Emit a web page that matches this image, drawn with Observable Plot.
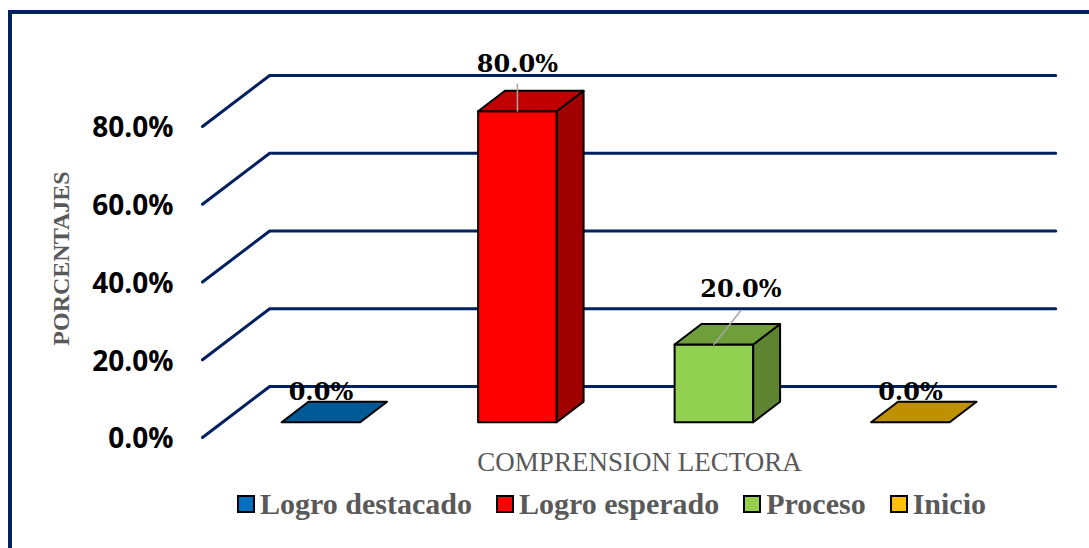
<!DOCTYPE html>
<html><head><meta charset="utf-8">
<script src="https://cdn.jsdelivr.net/npm/d3@7"></script>
<script src="https://cdn.jsdelivr.net/npm/@observablehq/plot@0.6"></script>
<style>
html,body{margin:0;padding:0;background:#fff;width:1089px;height:548px;overflow:hidden}
#frame{position:absolute;left:8px;top:10px;right:-10px;bottom:-10px;border:4px solid #002060;box-sizing:border-box}
#chart{position:absolute;left:0;top:0}
#chart svg{background:transparent;display:block}
#legend{position:absolute;left:237px;top:487px;display:flex;align-items:center;font:bold 30px "Liberation Serif",serif;color:#595959;white-space:nowrap;height:34px}
#legend .k{width:14px;height:14px;border:2px solid #000;margin-right:5px;display:inline-block}
#legend .i{display:flex;align-items:center;margin-right:24px}
</style></head><body>
<div id="frame"></div><div id="chart"></div><div id="legend"></div>
<script>
const categories = ["Logro destacado","Logro esperado","Proceso","Inicio"];
const values = [0,80,20,0];
const labels = ["0.0%","80.0%","20.0%","0.0%"];
const legendColors = ["#0070c0","#ff0000","#92d050","#ffc000"];
const topColors = ["#005a96","#c00000","#6f9f3a","#bf9000"];
const sideColors = ["#004f80","#a00000","#5e8432","#a67d00"];
const ticks = [0,20,40,60,80];
const xTitle = "COMPRENSION LECTORA";
const yTitle = "PORCENTAJES";

// oblique projection: depth runs 0..1 from the front of the floor to the back wall
const depthX = 0.342, depthY = 13.12;
const P = (c,v,d) => ({x:c+d*depthX, y:v+d*depthY});
const barL = 0.3, barR = 0.7, near = 0.3, far = 0.7; // in band/depth units

const grid = ticks.flatMap(t => [P(0,t,0),P(0,t,1),P(4,t,1)].map(p => ({...p,t})));

const faces = [];
values.forEach((v,i) => {
  const a=i+barL,b=i+barR;
  const add=(id,fill,pts)=>[...pts,pts[0]].forEach(p=>faces.push({...p,id:i+id,fill}));
  if (v>0) add("f",legendColors[i],[P(a,0,near),P(b,0,near),P(b,v,near),P(a,v,near)]);
  if (v>0) add("s",sideColors[i],[P(b,0,near),P(b,0,far),P(b,v,far),P(b,v,near)]);
  add("t",topColors[i],[P(a,v,near),P(b,v,near),P(b,v,far),P(a,v,far)]);
});

const mid=(barL+barR)/2;
const labelPts = values.map((v,i)=>({...P(i+mid,v,near),text:labels[i],v}));
const labelMarks = labelPts.map(d=>{
  const off = d.v===80?{dx:0,dy:-39}:d.v===20?{dx:27,dy:-47}:{dx:0,dy:-22};
  return Plot.text([d],{x:"x",y:"y",text:"text",dx:off.dx,dy:off.dy,lineAnchor:"bottom",
    fontFamily:"DejaVu Serif",fontWeight:"bold",fontSize:24,fill:"#000"});
});

const chart = Plot.plot({
  width:1089,height:488,
  marginLeft:202,marginRight:101,marginTop:0,marginBottom:0,
  x:{domain:[0,4],range:[202,988],axis:null},
  y:{domain:[0,80],range:[437,126],label:null},
  color:{type:"identity"},
  marks:[
    Plot.line(grid,{x:"x",y:"y",z:"t",stroke:"#002060",strokeWidth:3,strokeLinejoin:"miter"}),
    Plot.axisY({ticks,tickSize:0,tickPadding:29,dy:2,tickFormat:d=>d.toFixed(1)+"%",label:null,
      fontFamily:"Open Sans",fontWeight:"bold",fontSize:28,fill:"#000"}),
    ...labelMarks,
    Plot.line(faces,{x:"x",y:"y",z:"id",fill:"fill",stroke:"#000",strokeWidth:2,strokeLinejoin:"round"}),
    Plot.line([P(1+mid,80,near),{x:1+mid+near*depthX,y:80+near*depthY+27/3.8875}],{x:"x",y:"y",stroke:"#a6a6a6",strokeWidth:1.5}),
    Plot.line([P(2+mid,20,near),{x:2+mid+near*depthX+27/196.5,y:20+near*depthY+34/3.8875}],{x:"x",y:"y",stroke:"#a6a6a6",strokeWidth:1.5}),
    Plot.text([xTitle],{frameAnchor:"top-left",lineAnchor:"middle",textAnchor:"middle",dx:437,dy:462,
      fontFamily:"Liberation Serif",fontSize:27,fill:"#595959"}),
    Plot.text([yTitle],{frameAnchor:"top-left",lineAnchor:"middle",textAnchor:"middle",dx:-141,dy:258,rotate:-90,
      fontFamily:"Liberation Serif",fontWeight:"bold",fontSize:24,fill:"#595959"})
  ]
});
document.getElementById("chart").append(chart);
const lg=document.getElementById("legend");
categories.forEach((c,i)=>{
  const d=document.createElement("span");d.className="i";
  d.innerHTML=`<span class="k" style="background:${legendColors[i]}"></span>${c}`;
  lg.append(d);
});
</script>
</body></html>
